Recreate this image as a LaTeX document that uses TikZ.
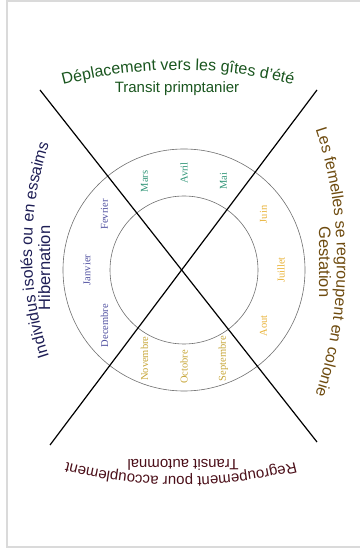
\documentclass[tikz,border=0pt]{standalone}
\usepackage{fontspec}
\setmainfont{Liberation Serif}
\setsansfont{Liberation Sans}
\usepackage{xcolor}
\usetikzlibrary{calc,decorations.text}

\definecolor{winter}{RGB}{80,80,160}
\definecolor{spring}{RGB}{50,150,120}
\definecolor{summer}{RGB}{232,178,55}
\definecolor{autumn}{RGB}{198,165,55}
\definecolor{topgreen}{RGB}{25,85,30}
\definecolor{rightbrown}{RGB}{110,75,15}
\definecolor{leftnavy}{RGB}{30,30,85}
\definecolor{bottomred}{RGB}{75,15,25}
\definecolor{ringgray}{RGB}{110,110,110}
\definecolor{framegray}{RGB}{218,218,218}

\begin{document}
\begin{tikzpicture}[
  x=1pt, y=1pt,
  month/.style={font=\fontsize{10.5}{12}\selectfont, rotate=90, inner sep=0pt},
  ring/.style={draw=ringgray, line width=0.6pt},
  cross/.style={draw=black, line width=1.2pt},
  subline/.style={font=\sffamily\fontsize{15}{17}\selectfont, inner sep=0pt, anchor=base},
  arclabel/.style={decorate, decoration={text along path, text align=center, text={#1}}}
]
\useasboundingbox (0,0) rectangle (359,554);
\draw[framegray, line width=1.5pt] (360,553) -- (7,553) -- (7,7) -- (360,7);

\coordinate (c) at (184,284);
\coordinate (nw) at (40,464);
\coordinate (se) at (317,112);
\coordinate (ne) at (317,464);
\coordinate (sw) at (50,109);

\draw[ring] (c) circle[radius=74];
\draw[ring] (c) circle[radius=121];
\draw[cross] (nw) -- (se);
\draw[cross] (ne) -- (sw);

\node[month, text=winter] (jan) at ($(c)+(180:97)$) {Janvier};
\node[month, text=winter] (feb) at ($(c)+(145:97)$) {Fevrier};
\node[month, text=spring] (mar) at ($(c)+(114:97)$) {Mars};
\node[month, text=spring] (apr) at ($(c)+(90:97)$) {Avril};
\node[month, text=spring] (may) at ($(c)+(66:97)$) {Mai};
\node[month, text=summer] (jun) at ($(c)+(35:97)$) {Juin};
\node[month, text=summer] (jul) at ($(c)+(0:97)$) {Juillet};
\node[month, text=summer] (aug) at ($(c)+(-35:97)$) {Aout};
\node[month, text=autumn] (sep) at ($(c)+(-66:97)$) {Septembre};
\node[month, text=autumn] (oct) at ($(c)+(-90:97)$) {Octobre};
\node[month, text=autumn] (nov) at ($(c)+(-114:97)$) {Novembre};
\node[month, text=winter] (dec) at ($(c)+(-145:97)$) {Decembre};

\coordinate (topc) at (178,34);
\coordinate (botc) at (181,533);
\coordinate (rightc) at (-85,292);
\coordinate (leftc) at (372,304);
\path[arclabel={|\sffamily\fontsize{16}{18}\selectfont\color{topgreen}|Déplacement vers les gîtes d'été}]
  ($(topc)+(112:450)$) arc[start angle=112, end angle=68, radius=450];
\path[arclabel={|\sffamily\fontsize{16}{18}\selectfont\color{rightbrown}|Les femelles se regroupent en colonie}]
  ($(rightc)+(24:422)$) arc[start angle=24, end angle=-24, radius=422];
\path[arclabel={|\sffamily\fontsize{15}{17}\selectfont\color{bottomred}|Regroupement pour accouplement}]
  ($(botc)+(-66:456)$) arc[start angle=-66, end angle=-114, radius=456];
\path[arclabel={|\sffamily\fontsize{16}{18}\selectfont\color{leftnavy}|Individus isolés ou en essaims}]
  ($(leftc)+(210:340)$) arc[start angle=210, end angle=150, radius=340];

\node[subline, text=topgreen] (spr) at (177,461) {Transit primptanier};
\node[subline, text=bottomred, rotate=180] (aut) at (183,94) {Transit automnal};
\node[subline, text=rightbrown, rotate=-90, font=\sffamily\fontsize{16.5}{18}\selectfont] (ges) at (319,292) {Gestation};
\node[subline, text=leftnavy, rotate=90, font=\sffamily\fontsize{16.5}{18}\selectfont] (hib) at (50,286) {Hibernation};
\end{tikzpicture}
\end{document}
